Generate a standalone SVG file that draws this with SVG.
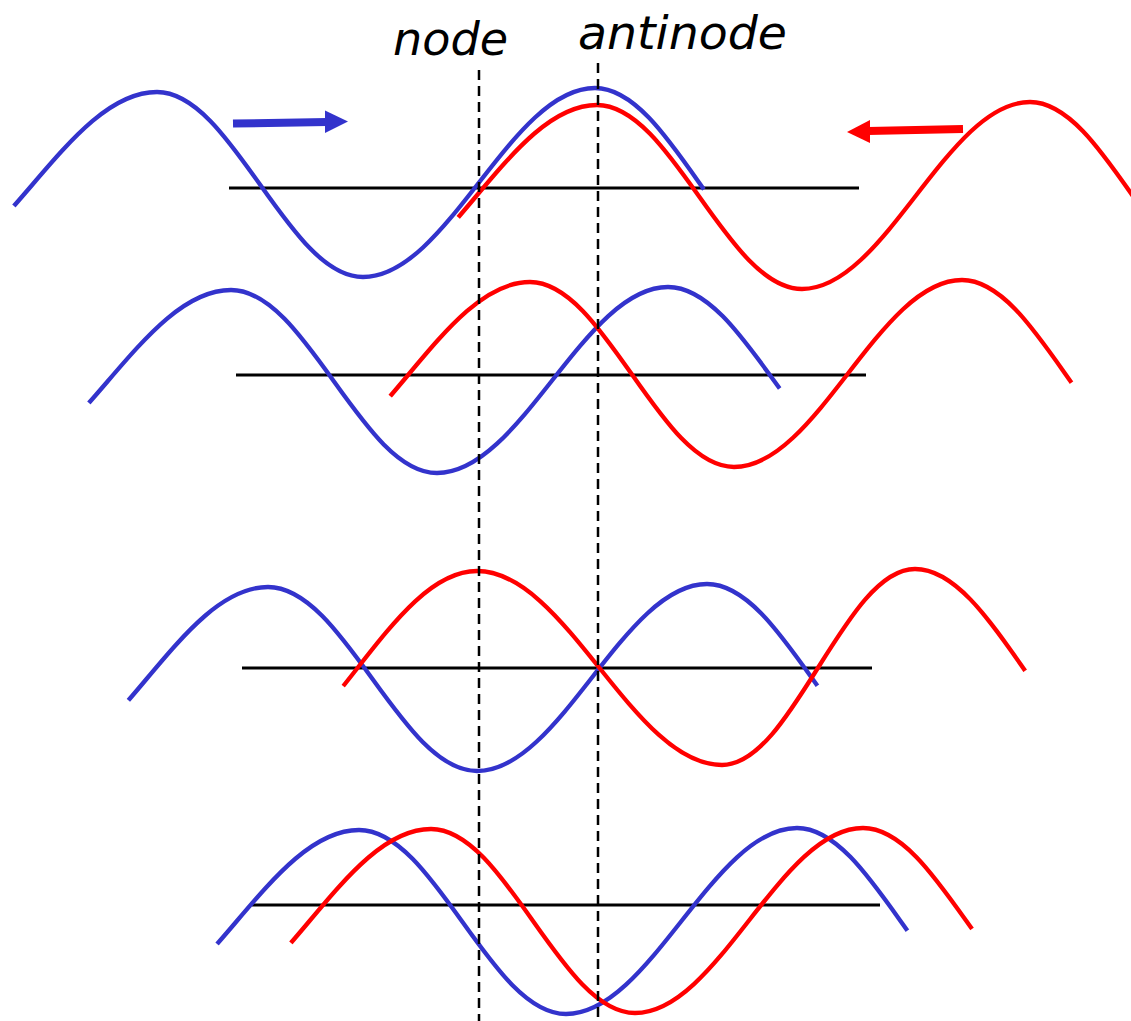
<svg xmlns="http://www.w3.org/2000/svg" width="1131" height="1021" viewBox="0 0 1131 1021">
  <style>
    .axis { stroke: #000; stroke-width: 2.8; fill: none; }
    .blue { stroke: #3333CC; stroke-width: 4.3; fill: none; stroke-linecap: butt; }
    .red { stroke: #FF0000; stroke-width: 4.3; fill: none; stroke-linecap: butt; }
    .dash { stroke: #000; stroke-width: 2.5; stroke-dasharray: 10 6; fill: none; }
    .label { font-family: "DejaVu Sans", "Liberation Sans", sans-serif; font-style: italic; font-size: 46px; fill: #000; }
  </style>
  <defs>
    <clipPath id="c1b"><polygon points="-151.7,60 885,60 521,320 143.4,320"/></clipPath>
    <clipPath id="c1r"><polygon points="276,60 1200,60 1200,330 588.6,330"/></clipPath>
    <clipPath id="c2b"><polygon points="-84.3,250 967.8,250 614.7,510 210.2,510"/></clipPath>
    <clipPath id="c2r"><polygon points="219.8,250 1257.9,250 906.6,500 511.2,500"/></clipPath>
    <clipPath id="c3b"><polygon points="-58.5,540 1019.4,540 659,800 244.6,800"/></clipPath>
    <clipPath id="c3r"><polygon points="146.5,530 1225.9,530 841.2,800 486.6,800"/></clipPath>
    <clipPath id="c4b"><polygon points="40.8,790 1102.8,790 769.5,1030 315.4,1030"/></clipPath>
    <clipPath id="c4r"><polygon points="113.9,790 1166.2,790 830.9,1030 391.7,1030"/></clipPath>
  </defs>

  <g id="axes">
    <line class="axis" x1="229" y1="188" x2="859" y2="188"/>
    <line class="axis" x1="236" y1="375" x2="866" y2="375"/>
    <line class="axis" x1="242" y1="668" x2="872" y2="668"/>
    <line class="axis" x1="252" y1="905" x2="880" y2="905"/>
  </g>

  <g id="row1">
    <path class="blue" clip-path="url(#c1b)" d="M-92,277 C-1.4,277 66.4,92 157,92 C232,92 288,277 363,277 C447.4,277 510.6,88 595,88 C670.7,88 727.3,277 803,277"/>
    <path class="red" clip-path="url(#c1r)" d="M354,289 C442.5,289 508.5,105 597,105 C671.6,105 727.4,289 802,289 C885,289 947,102 1030,102 C1104.6,102 1160.4,289 1235,289"/>
  </g>

  <g id="row2">
    <path class="blue" clip-path="url(#c2b)" d="M-16,473 C73.9,473 141.1,290 231,290 C306,290 362,473 437,473 C521.1,473 583.9,287 668,287 C744.8,287 802.2,473 879,473"/>
    <path class="red" clip-path="url(#c2r)" d="M287,467 C375.5,467 441.5,282 530,282 C604.3,282 659.7,467 734,467 C817,467 879,280 962,280 C1037,280 1093,467 1168,467"/>
  </g>

  <g id="row3">
    <path class="blue" clip-path="url(#c3b)" d="M25,771 C113.5,771 179.5,587 268,587 C344.1,587 400.9,771 477,771 C560.7,771 623.3,584 707,584 C783.1,584 839.9,771 916,771"/>
    <path class="red" clip-path="url(#c3r)" d="M238,765 C325,765 390,571 477,571 C566.2,571 632.8,765 722,765 C792.3,765 844.7,569 915,569 C993.3,569 1051.7,765 1130,765"/>
  </g>

  <g id="row4">
    <path class="blue" clip-path="url(#c4b)" d="M113,1014 C202.5,1014 269.5,830 359,830 C434.3,830 490.7,1014 566,1014 C650.1,1014 712.9,828 797,828 C872.3,828 928.7,1014 1004,1014"/>
    <path class="red" clip-path="url(#c4r)" d="M188,1013 C276.5,1013 342.5,829 431,829 C505.3,829 560.7,1013 635,1013 C718,1013 780,828 863,828 C938,828 994,1013 1069,1013"/>
  </g>

  <g id="arrows">
    <line x1="233" y1="123.5" x2="327" y2="122" stroke="#3333CC" stroke-width="8"/>
    <polygon points="325,110.5 348,121.5 325,133" fill="#3333CC"/>
    <line x1="963" y1="129" x2="868" y2="131" stroke="#FF0000" stroke-width="8"/>
    <polygon points="870,120 847,132 870,143" fill="#FF0000"/>
  </g>

  <g id="dashes">
    <line class="dash" x1="479" y1="70" x2="479" y2="1021"/>
    <line class="dash" x1="598" y1="63" x2="598" y2="1021"/>
  </g>

  <g id="labels">
    <text class="label" x="393" y="55" textLength="115" lengthAdjust="spacingAndGlyphs">node</text>
    <text class="label" x="578" y="49" textLength="209" lengthAdjust="spacingAndGlyphs">antinode</text>
  </g>
</svg>
